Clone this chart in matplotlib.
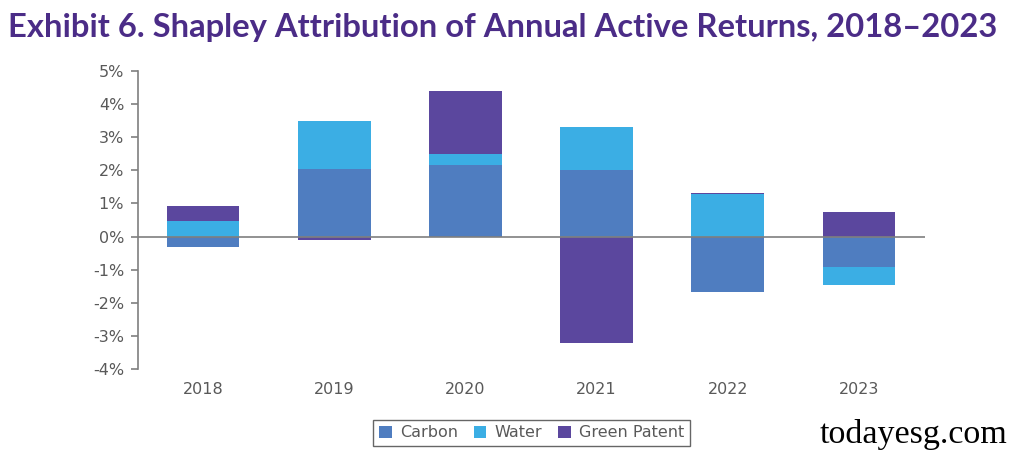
import matplotlib
matplotlib.use("Agg")
import matplotlib.pyplot as plt
from matplotlib.ticker import FuncFormatter
import numpy as np

years = ["2018", "2019", "2020", "2021", "2022", "2023"]
carbon = [-0.33, 2.05, 2.15, 2.00, -1.68, -0.92]
water = [0.47, 1.45, 0.35, 1.30, 1.30, -0.53]
green_patent = [0.45, -0.10, 1.90, -3.22, 0.02, 0.75]

series = [
    ("Carbon", carbon, "#4F7DC0"),
    ("Water", water, "#3BAEE4"),
    ("Green Patent", green_patent, "#5B479E"),
]

fig = plt.figure(figsize=(10.24, 4.53), dpi=100)
ax = fig.add_axes([0.1348, 0.1854, 0.9033 - 0.1348, 0.8433 - 0.1854])

x = np.arange(len(years))
pos_base = np.zeros(len(years))
neg_base = np.zeros(len(years))
for name, vals, color in series:
    vals = np.array(vals)
    bottoms = np.where(vals >= 0, pos_base, neg_base)
    ax.bar(x, vals, width=0.556, bottom=bottoms, color=color, label=name, zorder=2)
    pos_base = pos_base + np.where(vals >= 0, vals, 0)
    neg_base = neg_base + np.where(vals < 0, vals, 0)

ax.axhline(0, color="#7f7f7f", linewidth=1.2, zorder=3)
ax.set_xlim(-0.495, 5.503)
ax.set_ylim(-4, 5)
ax.set_yticks(range(-4, 6))
ax.yaxis.set_major_formatter(FuncFormatter(lambda v, _: f"{v:.0f}%"))
ax.set_xticks(x, years)

for s in ["top", "right", "bottom"]:
    ax.spines[s].set_visible(False)
ax.spines["left"].set_color("#7f7f7f")
ax.spines["left"].set_linewidth(1.2)
ax.tick_params(axis="y", colors="#7f7f7f", length=5, width=1.2, labelcolor="#595959", labelsize=11.5, pad=5)
ax.tick_params(axis="x", length=0, labelcolor="#595959", labelsize=11.5, pad=9)

leg = ax.legend(loc="upper center", bbox_to_anchor=(0.5, -0.17), borderaxespad=0, ncol=3, frameon=True,
                fancybox=False, edgecolor="#404040", fontsize=11.5, handlelength=0.8,
                handleheight=0.8, columnspacing=1.0, handletextpad=0.5, borderpad=0.35)
leg.get_frame().set_linewidth(1.0)
for t in leg.get_texts():
    t.set_color("#595959")

fig.text(0.008, 0.94, "Exhibit 6. Shapley Attribution of Annual Active Returns, 2018\u20132023",
         fontsize=23.6, fontweight="bold", color="#4B2C87", family="Lato", va="center", ha="left")
fig.text(0.80, 0.04, "todayesg.com", fontsize=24.5, family="Liberation Serif", color="black",
         va="center", ha="left")

fig.savefig("out.png", dpi=100)
